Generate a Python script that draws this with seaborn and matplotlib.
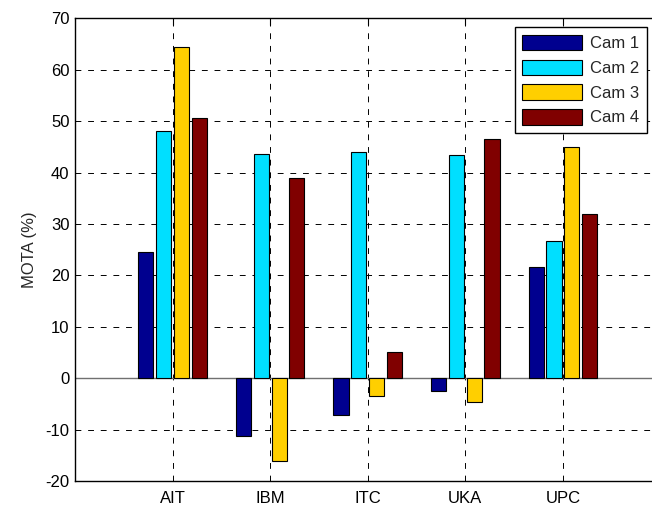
import matplotlib
matplotlib.use("Agg")
import matplotlib.pyplot as plt
import seaborn as sns
import pandas as pd

sites = ["AIT", "IBM", "ITC", "UKA", "UPC"]
cams = ["Cam 1", "Cam 2", "Cam 3", "Cam 4"]
cam1 = [24.6, -11.2, -7.2, -2.4, 21.6]
cam2 = [48.0, 43.6, 43.9, 43.4, 26.6]
cam3 = [64.4, -16.1, -3.5, -4.7, 45.0]
cam4 = [50.7, 38.9, 5.1, 46.5, 32.0]
colors = ["#00008F", "#00DFFF", "#FFCF00", "#800000"]
yticks = list(range(-20, 71, 10))

rows = []
for cam, vals in zip(cams, [cam1, cam2, cam3, cam4]):
    for s, v in zip(sites, vals):
        rows.append({"site": s, "cam": cam, "MOTA": v})
df = pd.DataFrame(rows)

sns.set_style("white")
plt.rcParams["font.family"] = ["Liberation Sans", "DejaVu Sans"]
plt.rcParams["axes.unicode_minus"] = False

fig = plt.figure(figsize=(6.52, 5.09), dpi=100)
W, H = 652, 509
left, right, top, bottom = 75, 660.5, 18.3, 481
ax = fig.add_axes([left / W, (H - bottom) / H, (right - left) / W, (bottom - top) / H])

sns.barplot(data=df, x="site", y="MOTA", hue="cam", order=sites, hue_order=cams,
            palette=colors, saturation=1, width=0.73, gap=0.15, edgecolor="black",
            linewidth=0.8, errorbar=None, ax=ax, zorder=3)

ax.set_xlim(-1, 5)
ax.set_ylim(-20, 70)
ax.set_yticks(yticks)
ax.set_xticks(range(len(sites)))
ax.set_xticklabels(sites)
ax.set_xlabel("")
ax.set_ylabel("MOTA (%)", fontsize=12, labelpad=6)

ax.grid(True, color="black", linestyle=(0, (6, 7)), linewidth=0.7, zorder=1)
ax.set_axisbelow(True)
ax.axhline(0, color="#707070", linewidth=1.0, zorder=2)

for sp in ax.spines.values():
    sp.set_visible(True)
    sp.set_color("black")
    sp.set_linewidth(1.0)
ax.tick_params(direction="in", length=5, width=0.8, top=True, right=True,
               labelsize=12, colors="black", pad=4)
ax.tick_params(axis="x", pad=7)

ax.legend(loc="upper right", bbox_to_anchor=(646.7 / W, 1 - 27.3 / H),
          bbox_transform=fig.transFigure, fontsize=12, frameon=True,
          fancybox=False, framealpha=1, edgecolor="black", handlelength=3.6,
          handleheight=1.05, labelspacing=0.5, handletextpad=0.45,
          borderpad=0.45, borderaxespad=0, title=None)
ax.get_legend().get_frame().set_linewidth(1.0)

fig.savefig("out.png", dpi=100)
